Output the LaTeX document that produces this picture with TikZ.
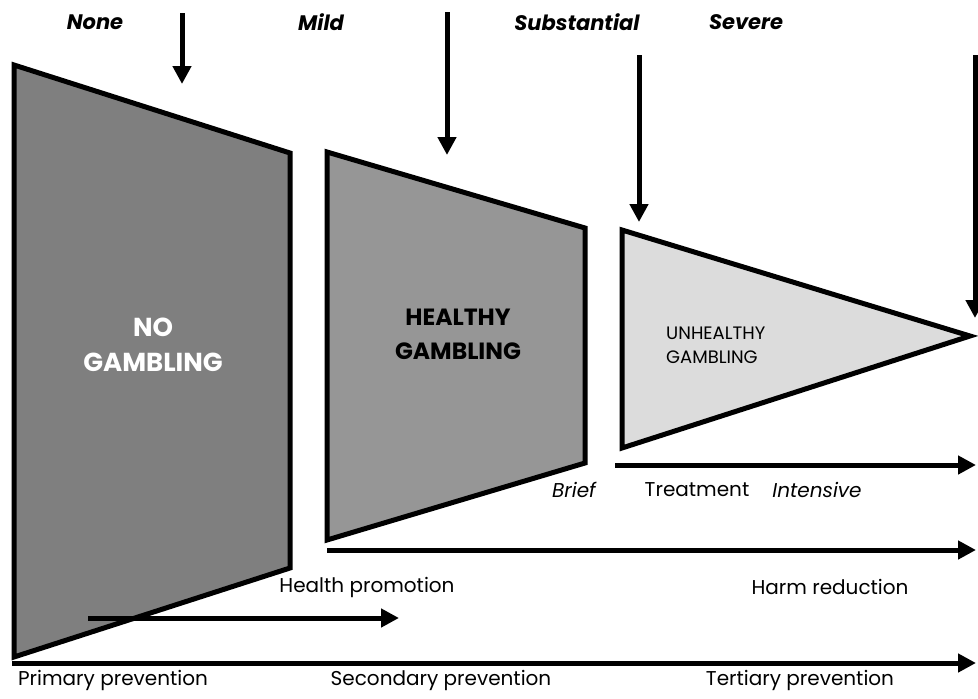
\documentclass[tikz,border=0pt]{standalone}
\usepackage{fontspec}
\setmainfont{Poppins}
\usetikzlibrary{arrows.meta}
\definecolor{nogray}{HTML}{7F7F7F}
\definecolor{okgray}{HTML}{969696}
\definecolor{badgray}{HTML}{DCDCDC}

\begin{document}
\begin{tikzpicture}[x=1pt,y=-1pt]
	\tikzstyle{block}=[draw=black,line width=5pt,line join=miter]
	\tikzstyle{arr}=[line width=5pt,-{Triangle[length=18pt,width=18pt]}]
	\tikzstyle{sev}=[inner sep=0pt,font=\fontsize{21}{21}\selectfont\bfseries\itshape]
	\tikzstyle{txt}=[inner sep=0pt,font=\fontsize{20}{20}\selectfont]
	\useasboundingbox (0,0) rectangle (978,699);

	% stages
	\draw[block,fill=nogray] (14,65) -- (290,153) -- (290,568) -- (14,657) -- cycle;
	\draw[block,fill=okgray] (327,152) -- (585,228) -- (585,463) -- (327,540) -- cycle;
	\draw[block,fill=badgray] (622,230) -- (970,336) -- (622,448) -- cycle;

	\node[inner sep=0pt,align=center,text=white,font=\fontsize{26}{35}\selectfont\bfseries] (no) at (153,345) {NO\\GAMBLING};
	\node[inner sep=0pt,align=center,font=\fontsize{23.5}{34}\selectfont\bfseries] (healthy) at (458,334) {HEALTHY\\GAMBLING};
	\node[inner sep=0pt,align=left,anchor=west,font=\fontsize{18}{24}\selectfont] (unhealthy) at (666,345) {UNHEALTHY\\GAMBLING};

	% severity
	\node[sev] (none) at (95,22) {None};
	\node[sev] (mild) at (321,22) {Mild};
	\node[sev] (subst) at (577,22) {Substantial};
	\node[sev] (severe) at (746,22) {Severe};

	\coordinate (d1a) at (182,13);  \coordinate (d1b) at (182,84);
	\coordinate (d2a) at (447,12);  \coordinate (d2b) at (447,155);
	\coordinate (d3a) at (639,55);  \coordinate (d3b) at (639,222);
	\coordinate (d4a) at (975,55);  \coordinate (d4b) at (975,318);
	\draw[arr] (d1a) -- (d1b);
	\draw[arr] (d2a) -- (d2b);
	\draw[arr] (d3a) -- (d3b);
	\draw[arr] (d4a) -- (d4b);

	% interventions
	\coordinate (treat0) at (615,465);  \coordinate (treat1) at (976,465);
	\coordinate (harm0) at (327,550);   \coordinate (harm1) at (976,550);
	\coordinate (promo0) at (88,618);   \coordinate (promo1) at (399,618);
	\coordinate (prev0) at (12,663);    \coordinate (prev1) at (976,663);
	\draw[arr] (treat0) -- (treat1);
	\draw[arr] (harm0) -- (harm1);
	\draw[arr] (promo0) -- (promo1);
	\draw[arr] (prev0) -- (prev1);

	\node[txt,font=\fontsize{20}{20}\selectfont\itshape] (brief) at (574,490) {Brief};
	\node[txt] (treatment) at (697,490) {Treatment};
	\node[txt,font=\fontsize{20}{20}\selectfont\itshape] (intensive) at (817,490) {Intensive};
	\node[txt] (harm) at (830,587) {Harm reduction};
	\node[txt] (promo) at (367,587) {Health promotion};
	\node[txt] (primary) at (113,680) {Primary prevention};
	\node[txt] (secondary) at (441,680) {Secondary prevention};
	\node[txt] (tertiary) at (800,680) {Tertiary prevention};
\end{tikzpicture}
\end{document}
